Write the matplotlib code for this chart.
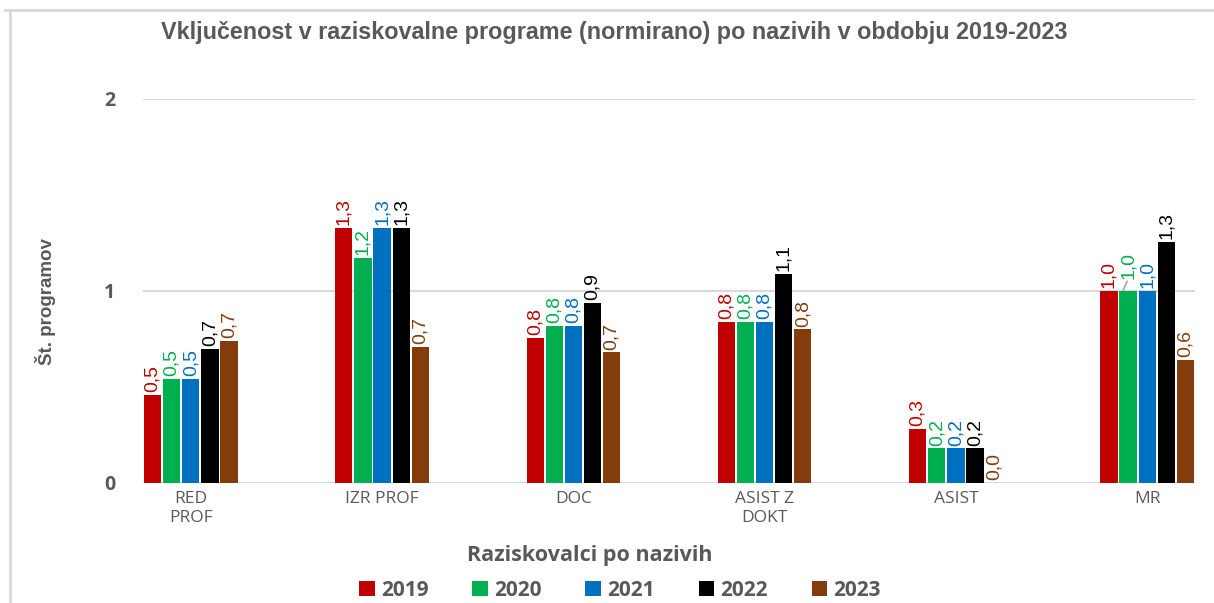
import matplotlib
matplotlib.use("Agg")
import matplotlib.pyplot as plt
import numpy as np

# podatki
nazivi = ["RED\nPROF", "IZR PROF", "DOC", "ASIST Z\nDOKT", "ASIST", "MR"]
leta = ["2019", "2020", "2021", "2022", "2023"]
v2019 = [0.46, 1.33, 0.755, 0.84, 0.28, 1.0]
v2020 = [0.54, 1.17, 0.82, 0.84, 0.18, 1.0]
v2021 = [0.54, 1.33, 0.82, 0.84, 0.18, 1.0]
v2022 = [0.70, 1.33, 0.94, 1.09, 0.18, 1.255]
v2023 = [0.74, 0.71, 0.68, 0.80, 0.0, 0.64]
barve = ["#C00000", "#00B050", "#0070C0", "#000000", "#843C0C"]

ozka = "Liberation Sans"
siva = "#595959"

fig = plt.figure(figsize=(12.14, 6.03), dpi=100)
W, H = 1214, 603
ax = fig.add_axes([143 / W, 1 - 483 / H, (1195 - 143) / W, (483 - 99) / H])

x = np.arange(len(nazivi))
sirina = 0.1
vrednosti = [v2019, v2020, v2021, v2022, v2023]
for i, (leto, vr, c) in enumerate(zip(leta, vrednosti, barve)):
    pos = x + (i - 2) * sirina
    ax.bar(pos, vr, width=0.09, color=c, label=leto, zorder=3)
    for j, (p, v) in enumerate(zip(pos, vr)):
        dy = 0.015
        if j == 5 and i == 1:
            # premaknjena oznaka z vodilno črto
            ax.plot([p - 0.025, p - 0.005], [1.005, 1.05], color="#A6A6A6", lw=1.2, zorder=4)
            dy = 0.06
        ax.text(p, v + dy, ("%.1f" % v).replace(".", ","), rotation=90, ha="center",
                va="bottom", color=c, fontsize=14, family=ozka)

ax.set_xlim(-0.25, 5.25)
ax.set_ylim(0, 2)
ax.set_yticks([0, 1, 2])
ax.set_yticklabels(["0", "1", "2"], fontsize=14, fontweight="bold", color=siva, family="Open Sans")
ax.set_xticks(x)
ax.set_xticklabels(nazivi, fontsize=12.5, color=siva, family="Open Sans", linespacing=1.25)
ax.tick_params(length=0, axis="y", pad=20)
ax.tick_params(length=0, axis="x", pad=6)
ax.grid(axis="y", color="#D9D9D9", lw=1.5, zorder=0)
for s in ax.spines.values():
    s.set_visible(False)

fig.text(614 / W, 1 - 32 / H, "Vključenost v raziskovalne programe (normirano) po nazivih v obdobju 2019-2023",
         ha="center", va="center", fontsize=16.8, fontweight="bold", color=siva, family=ozka)
fig.text(45 / W, 1 - 302 / H, "Št. programov", rotation=90, ha="center", va="center",
         fontsize=13.5, fontweight="bold", color=siva, family=ozka)
fig.text(590 / W, 1 - 556 / H, "Raziskovalci po nazivih", ha="center", va="center",
         fontsize=15.5, fontweight="bold", color=siva, family="Open Sans")

leg = fig.legend(loc="center", bbox_to_anchor=(620 / W, 1 - 590 / H), ncol=5, frameon=False,
                 prop={"family": "Open Sans", "weight": "bold", "size": 15},
                 handlelength=0.75, handleheight=0.75, handletextpad=0.3, columnspacing=2.1)
for t in leg.get_texts():
    t.set_color(siva)

# okvir grafa
fig.add_artist(plt.Line2D([10 / W, 10 / W], [0, 1 - 10 / H], color="#D9D9D9", lw=2, transform=fig.transFigure))
fig.add_artist(plt.Line2D([5 / W, 1], [1 - 10 / H, 1 - 10 / H], color="#D9D9D9", lw=2, transform=fig.transFigure))

fig.savefig("out.png", dpi=100)
